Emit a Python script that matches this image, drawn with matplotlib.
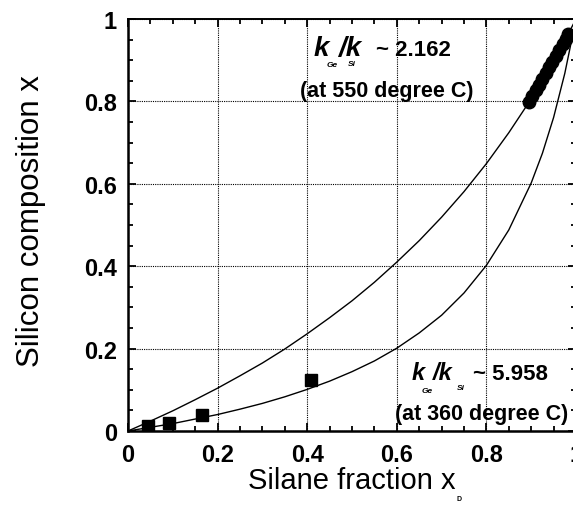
import matplotlib
matplotlib.use("Agg")
import matplotlib.pyplot as plt
from matplotlib.ticker import MultipleLocator

# ---- data ----
# model curve, k_Ge/k_Si ~ 2.162 (550 C)
xp_550 = [0, 0.05, 0.1, 0.15, 0.2, 0.25, 0.3, 0.35, 0.4, 0.45, 0.5, 0.55, 0.6,
          0.65, 0.7, 0.75, 0.8, 0.85, 0.9, 0.925, 0.95, 0.975, 1.0]
x_550 = [0, 0.024, 0.049, 0.076, 0.104, 0.134, 0.165, 0.199, 0.236, 0.275, 0.316,
         0.361, 0.410, 0.462, 0.519, 0.581, 0.649, 0.724, 0.806, 0.851, 0.898,
         0.948, 1.0]
# model curve, k_Ge/k_Si ~ 5.958 (360 C)
xp_360 = [0, 0.05, 0.1, 0.15, 0.2, 0.25, 0.3, 0.35, 0.4, 0.45, 0.5, 0.55, 0.6,
          0.65, 0.7, 0.75, 0.8, 0.85, 0.9, 0.925, 0.95, 0.975, 1.0]
x_360 = [0, 0.009, 0.018, 0.029, 0.040, 0.053, 0.067, 0.083, 0.101, 0.121, 0.144,
         0.170, 0.201, 0.238, 0.281, 0.335, 0.402, 0.488, 0.602, 0.674, 0.761,
         0.868, 1.0]
# measured points at 360 C (squares)
sq_xp = [0.045, 0.092, 0.166, 0.409]
sq_x = [0.012, 0.019, 0.039, 0.124]
# measured points at 550 C (circles)
ci_xp = [0.895, 0.902, 0.91, 0.917, 0.925, 0.932, 0.94, 0.947, 0.955, 0.962, 0.97, 0.977, 0.983]
ci_x = [0.798, 0.812, 0.827, 0.841, 0.855, 0.868, 0.883, 0.896, 0.911, 0.924, 0.939, 0.952, 0.963]

xticks = [0, 0.2, 0.4, 0.6, 0.8, 1]
xticklabels = ["0", "0.2", "0.4", "0.6", "0.8", "1"]
yticks = [0, 0.2, 0.4, 0.6, 0.8, 1]
yticklabels = ["0", "0.2", "0.4", "0.6", "0.8", "1"]

W, H = 573, 506
fig = plt.figure(figsize=(W / 100, H / 100), dpi=100)
L, R, T, B = 128, 576, 20, 432
ax = fig.add_axes([L / W, 1 - B / H, (R - L) / W, (B - T) / H])
ax.set_xlim(0, 1)
ax.set_ylim(0, 1)

ax.plot(xp_550, x_550, color="black", lw=1.0, zorder=3)
ax.plot(xp_360, x_360, color="black", lw=1.0, zorder=3)
ax.plot(sq_xp, sq_x, linestyle="none", marker="s", ms=8, color="black", zorder=4)
ax.plot(ci_xp, ci_x, linestyle="none", marker="o", ms=9, color="black", zorder=4)

ax.set_xticks(xticks)
ax.set_xticklabels(xticklabels)
ax.set_yticks(yticks)
ax.set_yticklabels(yticklabels)
ax.xaxis.set_minor_locator(MultipleLocator(0.05))
ax.yaxis.set_minor_locator(MultipleLocator(0.05))
ax.tick_params(which="both", direction="in", top=True, right=True, width=1.3, color="black")
ax.tick_params(which="major", length=6)
ax.tick_params(axis="x", which="major", pad=9)
ax.tick_params(axis="y", which="major", pad=8)
ax.tick_params(which="minor", length=3.5)
for lab in ax.get_xticklabels() + ax.get_yticklabels():
    lab.set_fontfamily("Liberation Sans")
    lab.set_fontweight("bold")
    lab.set_fontsize(17)

ax.grid(True, which="major", linestyle=(0, (1, 1)), color="black", lw=0.8)
for s in ["left", "bottom"]:
    ax.spines[s].set_linewidth(1.8)
for s in ["top", "right"]:
    ax.spines[s].set_linewidth(1.4)

ax.set_xlabel("Silane fraction x", fontfamily="Liberation Sans", fontsize=21, labelpad=0)
ax.set_ylabel("Silicon composition x", fontfamily="Liberation Sans", fontsize=22.5)
ax.yaxis.set_label_coords(-0.182, 0.512)
fig.text(459 / W, 1 - 500 / H, "D", fontfamily="Liberation Sans", fontweight="bold",
         fontsize=5, ha="center", va="center")


def px(x, y):
    return ((x - L) / (R - L), (B - y) / (B - T))


fk = dict(fontfamily="Liberation Sans", fontweight="bold", color="black", va="baseline", ha="left", zorder=5)

# annotation 550 C
ax.text(*px(314, 56), "k", fontstyle="italic", fontsize=20, **fk)
ax.text(*px(327, 67), "Ge", fontstyle="italic", fontsize=6, **fk)
ax.text(*px(338, 56), "/k", fontstyle="italic", fontsize=20, **fk)
ax.text(*px(348, 66), "Si", fontstyle="italic", fontsize=6, **fk)
ax.text(*px(376, 56), "~ 2.162", fontsize=16, **fk)
ax.text(*px(300, 97), "(at 550 degree C)", fontsize=15.5, **fk)

# annotation 360 C
ax.text(*px(412, 380), "k", fontstyle="italic", fontsize=17, **fk)
ax.text(*px(422, 393), "Ge", fontstyle="italic", fontsize=6, **fk)
ax.text(*px(433, 380), "/k", fontstyle="italic", fontsize=17, **fk)
ax.text(*px(457, 390), "Si", fontstyle="italic", fontsize=6, **fk)
ax.text(*px(473, 380), "~ 5.958", fontsize=16, **fk)
ax.text(*px(395, 420), "(at 360 degree C)", fontsize=15.5, **fk)

fig.savefig("out.png", dpi=100)
